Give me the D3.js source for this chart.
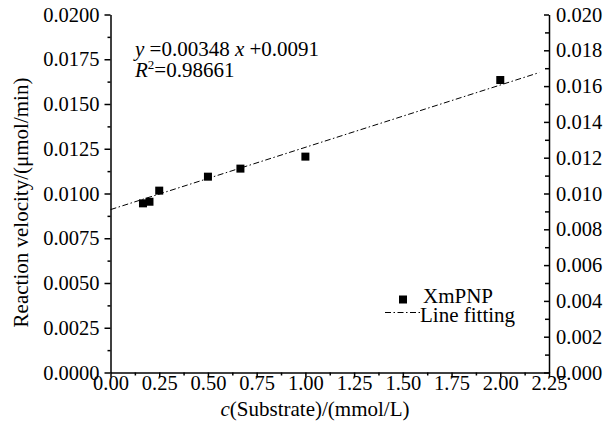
<!DOCTYPE html>
<html>
<head>
<meta charset="utf-8">
<script src="https://cdn.jsdelivr.net/npm/d3@7"></script>
<style>
  body { margin: 0; background: #fff; }
</style>
</head>
<body>
<div id="chart"></div>
<script>
// substrate concentration (mmol/L) and measured velocity (umol/min)
var substrate = [1 / 6, 0.2, 0.25, 0.5, 2 / 3, 1, 2];
var velocity = [0.00945, 0.00954, 0.01016, 0.01094, 0.01139, 0.01206, 0.01634];
var fitSlope = 0.00348;
var fitIntercept = 0.0091;
var fitRange = [0, 2.2];
var xTicks = [0, 0.25, 0.5, 0.75, 1, 1.25, 1.5, 1.75, 2, 2.25];
var yLeftTicks = [0, 0.0025, 0.005, 0.0075, 0.01, 0.0125, 0.015, 0.0175, 0.02];
var yRightTicks = [0, 0.002, 0.004, 0.006, 0.008, 0.01, 0.012, 0.014, 0.016, 0.018, 0.02];

var W = 616, H = 428;
var margin = { left: 110.5, right: 67, top: 14.5, bottom: 55.5 };
var FONT = '"Liberation Serif", "Times New Roman", Times, serif';
var tickFs = 20.5;
var fs = 21;

var svg = d3.select('#chart').append('svg')
  .attr('width', W)
  .attr('height', H)
  .style('font-family', FONT);

var x = d3.scaleLinear().domain([0, 2.25]).range([margin.left, W - margin.right]);
var y = d3.scaleLinear().domain([0, 0.02]).range([H - margin.bottom, margin.top]);

function midpoints(ticks) {
  var out = [];
  for (var i = 0; i < ticks.length - 1; i++) out.push((ticks[i] + ticks[i + 1]) / 2);
  return out;
}

function styleAxis(g) {
  g.attr('font-family', null);
  g.selectAll('line, path')
    .attr('stroke', '#000')
    .attr('stroke-width', 1.5);
  g.selectAll('text')
    .style('font-family', FONT)
    .style('font-size', tickFs + 'px')
    .attr('fill', '#000');
}

function addText(px, py, size) {
  return svg.append('text')
    .attr('x', px)
    .attr('y', py)
    .style('font-family', FONT)
    .style('font-size', size + 'px')
    .attr('fill', '#000');
}

// bottom axis
var gx = svg.append('g')
  .attr('transform', 'translate(0,' + y(0) + ')')
  .call(d3.axisBottom(x).tickValues(xTicks).tickFormat(d3.format('.2f'))
    .tickSizeInner(5).tickSizeOuter(0));
styleAxis(gx);
gx.selectAll('text').attr('dy', null).attr('y', 17.5);
svg.append('g')
  .attr('transform', 'translate(0,' + y(0) + ')')
  .call(d3.axisBottom(x).tickValues(midpoints(xTicks)).tickFormat('')
    .tickSizeInner(3).tickSizeOuter(0))
  .call(function (g) { g.select('.domain').remove(); styleAxis(g); });

// left axis
var gy = svg.append('g')
  .attr('transform', 'translate(' + x(0) + ',0)')
  .call(d3.axisLeft(y).tickValues(yLeftTicks).tickFormat(d3.format('.4f'))
    .tickSizeInner(6).tickSizeOuter(0).tickPadding(5));
styleAxis(gy);
svg.append('g')
  .attr('transform', 'translate(' + x(0) + ',0)')
  .call(d3.axisLeft(y).tickValues(midpoints(yLeftTicks)).tickFormat('')
    .tickSizeInner(3).tickSizeOuter(0))
  .call(function (g) { g.select('.domain').remove(); styleAxis(g); });

// right axis, ticks pointing inward
var gr = svg.append('g')
  .attr('transform', 'translate(' + x(2.25) + ',0)')
  .call(d3.axisRight(y).tickValues(yRightTicks).tickFormat(d3.format('.3f'))
    .tickSizeInner(-5).tickSizeOuter(0).tickPadding(7));
styleAxis(gr);
svg.append('g')
  .attr('transform', 'translate(' + x(2.25) + ',0)')
  .call(d3.axisRight(y).tickValues(midpoints(yRightTicks)).tickFormat('')
    .tickSizeInner(-4).tickSizeOuter(0))
  .call(function (g) { g.select('.domain').remove(); styleAxis(g); });

// fitted line
var line = d3.line()
  .x(function (d) { return x(d); })
  .y(function (d) { return y(fitSlope * d + fitIntercept); });
svg.append('path')
  .attr('d', line(fitRange))
  .attr('fill', 'none')
  .attr('stroke', '#000')
  .attr('stroke-width', 1)
  .attr('stroke-dasharray', '6,2.5,1.5,2.5');

// points
var sq = 8;
svg.append('g').selectAll('rect')
  .data(substrate)
  .enter()
  .append('rect')
  .attr('x', function (d) { return x(d) - sq / 2; })
  .attr('y', function (d, i) { return y(velocity[i]) - sq / 2; })
  .attr('width', sq)
  .attr('height', sq)
  .attr('fill', '#000');

// axis titles
svg.append('text')
  .attr('transform', 'translate(28,202.5) rotate(-90)')
  .attr('text-anchor', 'middle')
  .style('font-family', FONT)
  .style('font-size', fs + 'px')
  .text('Reaction velocity/(\u03bcmol/min)');

var xt = addText(315, 416, fs).attr('text-anchor', 'middle');
xt.append('tspan').style('font-style', 'italic').text('c');
xt.append('tspan').text('(Substrate)/(mmol/L)');

// equation
var eq = addText(135, 56, fs);
eq.append('tspan').style('font-style', 'italic').text('y');
eq.append('tspan').text(' =0.00348 ');
eq.append('tspan').style('font-style', 'italic').text('x');
eq.append('tspan').text(' +0.0091');

var r2 = addText(135, 77, fs);
r2.append('tspan').style('font-style', 'italic').text('R');
r2.append('tspan').attr('dy', -8).style('font-size', '13px').text('2');
r2.append('tspan').attr('dy', 8).text('=0.98661');

// legend
var lg = svg.append('g');
lg.append('rect')
  .attr('x', 399).attr('y', 295.5)
  .attr('width', 8).attr('height', 8)
  .attr('fill', '#000');
addText(423, 303, fs).text('XmPNP');
lg.append('line')
  .attr('x1', 385).attr('x2', 420)
  .attr('y1', 312.5).attr('y2', 312.5)
  .attr('stroke', '#000')
  .attr('stroke-dasharray', '6,2.5,1.5,2.5');
addText(420, 322, fs).text('Line fitting');
</script>
</body>
</html>
